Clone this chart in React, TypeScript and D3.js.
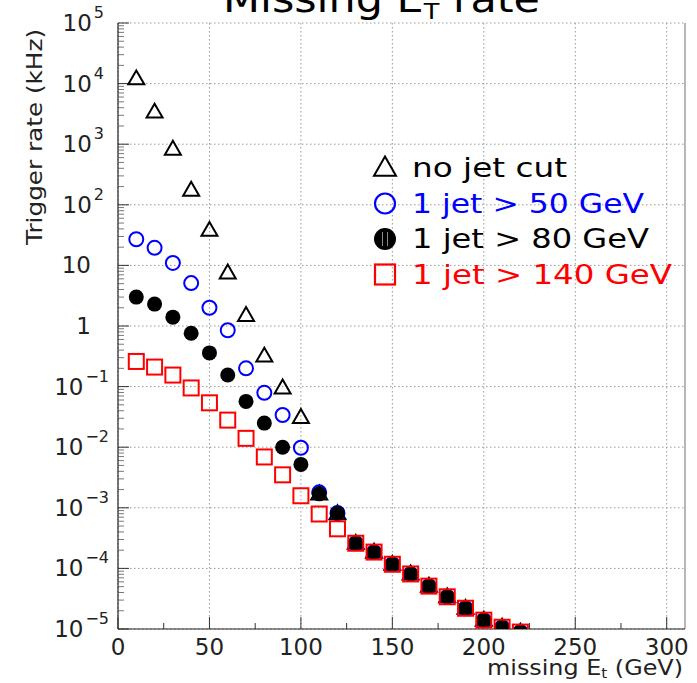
import React from "react";
import * as d3 from "d3";

const xValues = [10, 20, 30, 40, 50, 60, 70, 80, 90, 100, 110, 120, 130, 140, 150, 160, 170, 180, 190, 200, 210, 220];
const tail = [2.6e-4, 1.86e-4, 1.17e-4, 8.1e-5, 5.1e-5, 3.4e-5, 2.2e-5, 1.4e-5, 1.07e-5, 8.9e-6];
const noJetCut = [12000, 3400, 830, 175, 38, 7.5, 1.5, 0.32, 0.095, 0.031, 1.7e-3, 8.0e-4, ...tail];
const jet50 = [27, 19.5, 11, 5.1, 2.0, 0.85, 0.2, 0.079, 0.034, 0.0098, 1.8e-3, 8.2e-4, ...tail];
const jet80 = [3.0, 2.3, 1.4, 0.76, 0.36, 0.155, 0.057, 0.025, 0.010, 0.0052, 1.7e-3, 8.1e-4, ...tail];
const jet140 = [0.26, 0.21, 0.155, 0.095, 0.054, 0.028, 0.014, 0.0069, 0.0035, 1.58e-3, 7.9e-4, 4.5e-4, ...tail];

const xTicks = [0, 50, 100, 150, 200, 250, 300];
const xMinorTicks = [25, 75, 125, 175, 225, 275];
const yTickExponents = [5, 4, 3, 2, 1, 0, -1, -2, -3, -4, -5];
const legendLabels = ["no jet cut", "1 jet > 50 GeV", "1 jet > 80 GeV", "1 jet > 140 GeV"];
const legendColors = ["#000", "#0000ff", "#000", "#ff0000"];
const legendWidths = [155, 232, 237, 260];

const W = 697, H = 683;
const L = 118, R = 685, T = 23, B = 629;
const FONT = "DejaVu Sans, sans-serif";

function Triangle({ x, y, s, color }: any) {
  const h = s * 0.87;
  return <path d={`M${x},${y - h * 0.6} L${x + s / 2},${y + h * 0.4} L${x - s / 2},${y + h * 0.4} Z`} fill="none" stroke={color} strokeWidth={2} />;
}

export default function App() {
  const x = d3.scaleLinear().domain([0, 310]).range([L, R]);
  const y = d3.scaleLog().domain([1e-5, 1e5]).range([B, T]);
  const minorY: number[] = [];
  for (let e = -5; e < 5; e++) for (let k = 2; k <= 9; k++) minorY.push(k * Math.pow(10, e));

  const pts = (vals: number[]) => xValues.map((v, i) => [x(v), y(vals[i])] as [number, number]);

  return (
    <svg width={W} height={H} style={{ position: "absolute", left: 0, top: 0, background: "#fff" }} fontFamily={FONT}>
      <defs>
        <clipPath id="plot"><rect x={L} y={T} width={R - L} height={B - T} /></clipPath>
      </defs>
      {/* grid */}
      {xTicks.map((t) => (
        <line key={"gx" + t} x1={x(t)} x2={x(t)} y1={T} y2={B} stroke="#999" strokeDasharray="1.5,2.5" strokeWidth={1} />
      ))}
      {yTickExponents.map((e) => (
        <line key={"gy" + e} x1={L} x2={R} y1={y(Math.pow(10, e))} y2={y(Math.pow(10, e))} stroke="#999" strokeDasharray="1.5,2.5" strokeWidth={1} />
      ))}
      {/* frame */}
      <line x1={R} x2={R} y1={T} y2={B} stroke="#888" strokeWidth={1.2} />
      <line x1={L} x2={L} y1={T} y2={B} stroke="#222" strokeWidth={1.2} />
      <line x1={L} x2={R} y1={B} y2={B} stroke="#222" strokeWidth={1.2} />
      {/* y ticks */}
      {yTickExponents.map((e) => (
        <line key={"ty" + e} x1={L} x2={L + 11} y1={y(Math.pow(10, e))} y2={y(Math.pow(10, e))} stroke="#333" />
      ))}
      {minorY.map((v, i) => (
        <line key={"my" + i} x1={L} x2={L + 6} y1={y(v)} y2={y(v)} stroke="#555" strokeWidth={0.8} />
      ))}
      {/* x ticks */}
      {xTicks.map((t) => (
        <line key={"tx" + t} x1={x(t)} x2={x(t)} y1={B} y2={B - 12} stroke="#333" />
      ))}
      {xMinorTicks.map((t) => (
        <line key={"mx" + t} x1={x(t)} x2={x(t)} y1={B} y2={B - 6} stroke="#333" />
      ))}
      {/* y labels */}
      {yTickExponents.map((e) => {
        const yy = y(Math.pow(10, e)) + 8;
        if (e === 1) return <text key={"ly" + e} x={91} y={yy} textAnchor="end" fontSize={23} fill="#222">10</text>;
        if (e === 0) return <text key={"ly" + e} x={91} y={yy} textAnchor="end" fontSize={23} fill="#222">1</text>;
        const sup = e < 0 ? "\u2212" + Math.abs(e) : String(e);
        return (
          <text key={"ly" + e} x={e < 0 ? 109 : 104} y={yy} textAnchor="end" fontSize={23} fill="#222">
            10<tspan dy={-13} dx={2} fontSize={16}>{sup}</tspan>
          </text>
        );
      })}
      {/* x labels */}
      {xTicks.map((t) => (
        <text key={"lx" + t} x={x(t)} y={655} textAnchor="middle" fontSize={23} fill="#222">{t}</text>
      ))}
      <text x={683} y={675} textAnchor="end" fontSize={22} fill="#222" textLength={196} lengthAdjust="spacingAndGlyphs">
        missing E<tspan dy={3} fontSize={14}>t</tspan><tspan dy={-3}> (GeV)</tspan>
      </text>
      <text transform="translate(42,137) rotate(-90)" textAnchor="middle" fontSize={22} fill="#222" textLength={216} lengthAdjust="spacingAndGlyphs">Trigger rate (kHz)</text>
      {/* title */}
      <text x={223} y={12} fontSize={37} fill="#000" textLength={317} lengthAdjust="spacingAndGlyphs">
        Missing E<tspan dy={7} fontSize={22}>T</tspan><tspan dy={-7}> rate</tspan>
      </text>
      {/* data */}
      <g clipPath="url(#plot)">
        {pts(noJetCut).map(([px, py], i) => <Triangle key={"t" + i} x={px} y={py} s={16} color="#000" />)}
        {pts(jet50).map(([px, py], i) => <circle key={"c" + i} cx={px} cy={py} r={7} fill="none" stroke="#0000ff" strokeWidth={2} />)}
        {pts(jet80).map(([px, py], i) => <circle key={"d" + i} cx={px} cy={py} r={7.5} fill="#000" />)}
        {pts(jet140).map(([px, py], i) => <rect key={"s" + i} x={px - 7.5} y={py - 7.5} width={15} height={15} fill="none" stroke="#ff0000" strokeWidth={2} />)}
      </g>
      {/* legend */}
      {legendLabels.map((lab, i) => {
        const ly = 168 + i * 35.5;
        const mx = 385;
        let marker;
        if (i === 0) marker = <Triangle x={mx} y={ly} s={22} color="#000" />;
        else if (i === 1) marker = <circle cx={mx} cy={ly} r={10} fill="none" stroke="#0000ff" strokeWidth={2.2} />;
        else if (i === 2) marker = (
          <g>
            <circle cx={mx} cy={ly} r={11} fill="#000" />
            <line x1={mx - 2.5} x2={mx - 2.5} y1={ly - 7} y2={ly + 7} stroke="#888" strokeWidth={1} />
            <line x1={mx + 2.5} x2={mx + 2.5} y1={ly - 7} y2={ly + 7} stroke="#888" strokeWidth={1} />
          </g>
        );
        else marker = <rect x={mx - 10} y={ly - 10} width={20} height={20} fill="none" stroke="#ff0000" strokeWidth={2.2} />;
        return (
          <g key={"lg" + i}>
            {marker}
            <text x={412} y={ly + 9} fontSize={26} fill={legendColors[i]} textLength={legendWidths[i]} lengthAdjust="spacingAndGlyphs">{lab}</text>
          </g>
        );
      })}
    </svg>
  );
}
